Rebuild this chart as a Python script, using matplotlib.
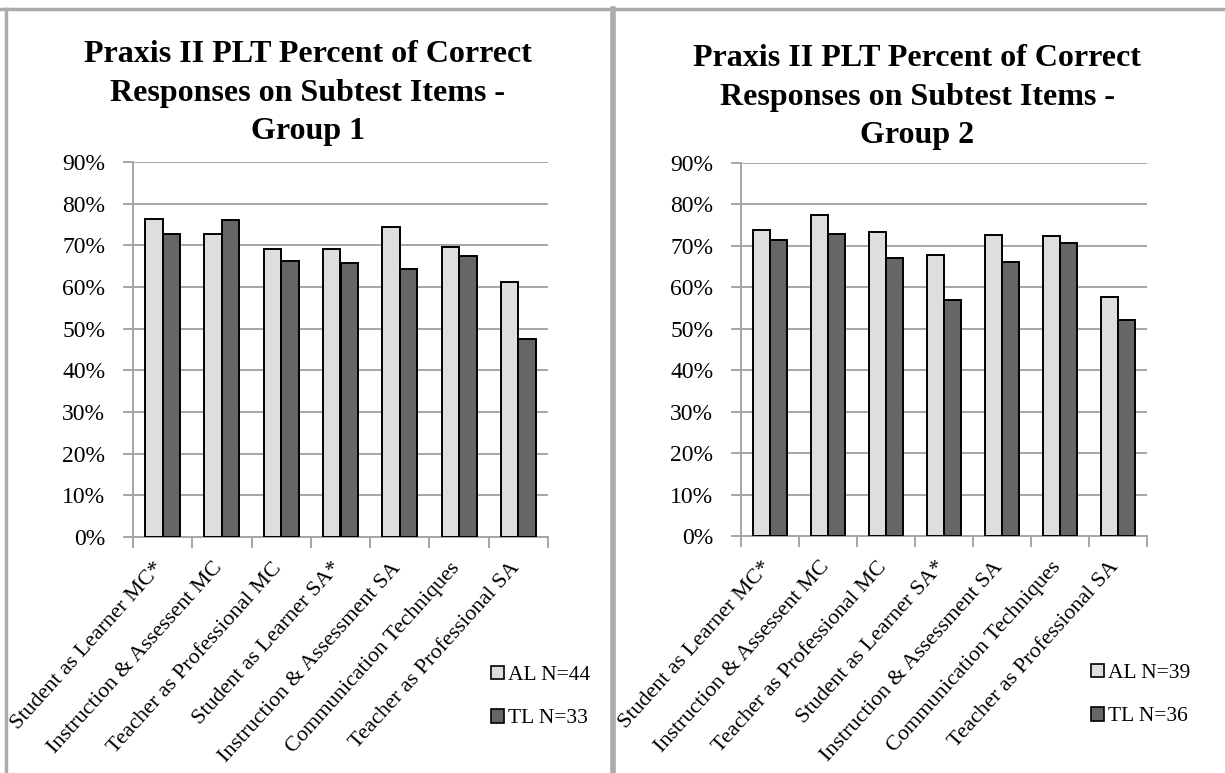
import matplotlib

matplotlib.use("Agg")
import matplotlib.pyplot as plt
import numpy as np
from matplotlib.lines import Line2D
from matplotlib.patches import Patch
from matplotlib.ticker import PercentFormatter

plt.rcParams["font.family"] = ["Liberation Serif", "DejaVu Serif"]

CATEGORIES = [
    "Student as Learner MC*",
    "Instruction & Assessent MC",
    "Teacher as Professional MC",
    "Student as Learner SA*",
    "Instruction & Assessment SA",
    "Communication Techniques",
    "Teacher as Professional SA",
]

# Group 1
G1_AL = [76.4, 72.7, 69.2, 69.2, 74.4, 69.5, 61.2]
G1_TL = [72.8, 76.0, 66.2, 65.8, 64.2, 67.4, 47.6]
G1_LABELS = ["AL N=44", "TL N=33"]

# Group 2
G2_AL = [73.9, 77.5, 73.3, 67.9, 72.7, 72.3, 57.7]
G2_TL = [71.5, 72.9, 67.1, 56.9, 66.0, 70.8, 52.1]
G2_LABELS = ["AL N=39", "TL N=36"]

TITLE = "Praxis II PLT Percent of Correct\nResponses on Subtest Items -\nGroup {}"

LIGHT, DARK, GRID = "#DEDEDE", "#666666", "#A6A6A6"
W, H = 1225, 773


def fx(px):
    return px / W


def fy(py):
    return 1 - py / H


def panel(fig, rect, al, tl, labels, title, title_xy, legend_xy):
    ax = fig.add_axes(rect)
    x = np.arange(len(CATEGORIES))
    bw = 0.295
    ax.bar(x - bw / 2, al, bw, color=LIGHT, edgecolor="black", lw=1.4, zorder=3)
    ax.bar(x + bw / 2, tl, bw, color=DARK, edgecolor="black", lw=1.4, zorder=3)
    ax.set_xlim(-0.5, len(CATEGORIES) - 0.5)
    ax.set_ylim(0, 90)
    ax.set_yticks(np.arange(0, 91, 10))
    ax.yaxis.set_major_formatter(PercentFormatter(decimals=0))
    ax.grid(axis="y", color=GRID, lw=1.4, zorder=0)
    for side in ("top", "right"):
        ax.spines[side].set_visible(False)
    for side in ("left", "bottom"):
        ax.spines[side].set_color(GRID)
        ax.spines[side].set_linewidth(1.4)
    ax.tick_params(axis="y", length=7, width=1.4, color=GRID, labelsize=17,
                   pad=13)
    # category ticks sit on the boundaries, Excel style
    ax.set_xticks(np.arange(-0.5, len(CATEGORIES), 1.0))
    ax.set_xticklabels([])
    ax.tick_params(axis="x", length=8, width=1.4, color=GRID)
    for i, lab in enumerate(CATEGORIES):
        ax.annotate(lab, (i, 0), xycoords=("data", "axes fraction"),
                    xytext=(-2, -28), textcoords="offset pixels",
                    rotation=48, ha="right", va="center",
                    rotation_mode="anchor", fontsize=16)

    fig.text(title_xy[0], title_xy[1], title, ha="center", va="center",
             fontsize=23, fontweight="bold", linespacing=1.42)

    handles = [Patch(facecolor=LIGHT, edgecolor="black", lw=1.2),
               Patch(facecolor=DARK, edgecolor="black", lw=1.2)]
    fig.legend(handles, labels, loc="center left", bbox_to_anchor=legend_xy,
               frameon=False, fontsize=15.5, handlelength=0.6,
               handleheight=0.6, handletextpad=0.2, labelspacing=1.1,
               borderpad=0, borderaxespad=0)
    return ax


fig = plt.figure(figsize=(W / 100, H / 100), dpi=100)

panel(fig, [fx(133), fy(537), fx(548 - 133), (537 - 162) / H],
      G1_AL, G1_TL, G1_LABELS, TITLE.format(1),
      (fx(308), fy(93)), (fx(491), fy(697)))
panel(fig, [fx(741), fy(536), fx(1147 - 741), (536 - 163) / H],
      G2_AL, G2_TL, G2_LABELS, TITLE.format(2),
      (fx(917), fy(97)), (fx(1091), fy(695)))

# the grey frames around the two charts
frame = dict(color="#ABABAB", lw=2.5, transform=fig.transFigure)
fig.add_artist(Line2D([0, 1], [fy(9), fy(9)], **frame))
fig.add_artist(Line2D([fx(6), fx(6)], [0, fy(9)], **frame))
fig.add_artist(Line2D([fx(613), fx(613)], [0, fy(9)], lw=4, color="#ABABAB",
                      transform=fig.transFigure))

fig.savefig("out.png", dpi=100, facecolor="white")
